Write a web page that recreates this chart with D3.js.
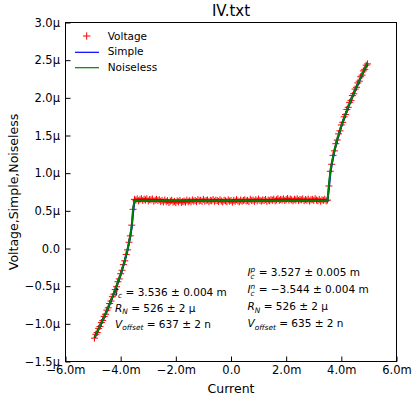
<!DOCTYPE html>
<html>
<head>
<meta charset="utf-8">
<script src="https://cdn.jsdelivr.net/npm/d3@7"></script>
<style>
  body { margin: 0; background: #fff; }
  svg { display: block; font-family: 'DejaVu Sans', sans-serif; }
</style>
</head>
<body>
<div id="iv-chart"><svg></svg></div>
<script>
// series names, in plotting order
const seriesNames = ['Voltage', 'Simple', 'Noiseless']
const seriesColors = ['#ff0000', '#0000ff', '#007f00']

// measured points: current (mA) and voltage (µV)
const currents = [
  -4.95, -4.90, -4.85, -4.80, -4.75, -4.70, -4.65, -4.60, -4.55, -4.50,
  -4.45, -4.40, -4.35, -4.30, -4.25, -4.20, -4.15, -4.10, -4.05, -4.00,
  -3.95, -3.90, -3.85, -3.80, -3.75, -3.70, -3.65, -3.60, -3.55,
  -3.50, -3.45, -3.40, -3.35, -3.30, -3.25, -3.20, -3.15, -3.10, -3.05,
  -3.00, -2.95, -2.90, -2.85, -2.80, -2.75, -2.70, -2.65, -2.60, -2.55,
  -2.50, -2.45, -2.40, -2.35, -2.30, -2.25, -2.20, -2.15, -2.10, -2.05,
  -2.00, -1.95, -1.90, -1.85, -1.80, -1.75, -1.70, -1.65, -1.60, -1.55,
  -1.50, -1.45, -1.40, -1.35, -1.30, -1.25, -1.20, -1.15, -1.10, -1.05,
  -1.00, -0.95, -0.90, -0.85, -0.80, -0.75, -0.70, -0.65, -0.60, -0.55,
  -0.50, -0.45, -0.40, -0.35, -0.30, -0.25, -0.20, -0.15, -0.10, -0.05,
  0.00, 0.05, 0.10, 0.15, 0.20, 0.25, 0.30, 0.35, 0.40, 0.45,
  0.50, 0.55, 0.60, 0.65, 0.70, 0.75, 0.80, 0.85, 0.90, 0.95,
  1.00, 1.05, 1.10, 1.15, 1.20, 1.25, 1.30, 1.35, 1.40, 1.45,
  1.50, 1.55, 1.60, 1.65, 1.70, 1.75, 1.80, 1.85, 1.90, 1.95,
  2.00, 2.05, 2.10, 2.15, 2.20, 2.25, 2.30, 2.35, 2.40, 2.45,
  2.50, 2.55, 2.60, 2.65, 2.70, 2.75, 2.80, 2.85, 2.90, 2.95,
  3.00, 3.05, 3.10, 3.15, 3.20, 3.25, 3.30, 3.35, 3.40, 3.45,
  3.50,
  3.55, 3.60, 3.65, 3.70, 3.75, 3.80, 3.85, 3.90, 3.95, 4.00,
  4.05, 4.10, 4.15, 4.20, 4.25, 4.30, 4.35, 4.40, 4.45, 4.50,
  4.55, 4.60, 4.65, 4.70, 4.75, 4.80, 4.85, 4.90, 4.95
]
const voltage = [
  -1.190, -1.138, -1.115, -1.060, -1.035, -0.982, -0.955, -0.901, -0.873, -0.818,
  -0.788, -0.730, -0.698, -0.640, -0.606, -0.545, -0.508, -0.441, -0.404, -0.335,
  -0.289, -0.214, -0.163, -0.079, -0.018, 0.083, 0.168, 0.310, 0.520,
  0.652, 0.641, 0.658, 0.633, 0.649, 0.662, 0.638, 0.655, 0.644, 0.660,
  0.631, 0.650, 0.646, 0.657, 0.628, 0.642, 0.653, 0.636, 0.648, 0.625,
  0.639, 0.618, 0.644, 0.622, 0.635, 0.611, 0.629, 0.640, 0.615, 0.626,
  0.608, 0.633, 0.619, 0.637, 0.612, 0.624, 0.630, 0.616, 0.642, 0.621,
  0.634, 0.619, 0.645, 0.628, 0.638, 0.623, 0.648, 0.631, 0.640, 0.626,
  0.652, 0.629, 0.637, 0.644, 0.622, 0.639, 0.633, 0.650, 0.627, 0.641,
  0.636, 0.624, 0.647, 0.630, 0.618, 0.641, 0.633, 0.622, 0.645, 0.629,
  0.637, 0.615, 0.640, 0.626, 0.649, 0.632, 0.620, 0.643, 0.628, 0.638,
  0.646, 0.631, 0.639, 0.624, 0.653, 0.635, 0.642, 0.627, 0.648, 0.633,
  0.656, 0.638, 0.629, 0.645, 0.637, 0.651, 0.626, 0.643, 0.634, 0.649,
  0.640, 0.655, 0.632, 0.647, 0.661, 0.638, 0.652, 0.644, 0.659, 0.636,
  0.650, 0.664, 0.641, 0.657, 0.646, 0.633, 0.654, 0.642, 0.660, 0.637,
  0.651, 0.645, 0.658, 0.634, 0.649, 0.641, 0.656, 0.630, 0.647, 0.653,
  0.638, 0.660, 0.643, 0.635, 0.652, 0.628, 0.646, 0.639, 0.655, 0.633,
  0.642,
  0.830, 1.025, 1.118, 1.236, 1.296, 1.391, 1.440, 1.522, 1.562, 1.640,
  1.675, 1.748, 1.778, 1.846, 1.874, 1.940, 1.966, 2.030, 2.054, 2.116,
  2.140, 2.198, 2.221, 2.280, 2.301, 2.358, 2.378, 2.433, 2.450
]

// fitted curves: current (mA) and voltage (µV)
const fitCurrents = [
  -4.95, -4.75, -4.50, -4.25, -4.00, -3.85, -3.75, -3.65, -3.60, -3.55, -3.50,
  3.50, 3.55, 3.60, 3.65, 3.75, 3.85, 4.00, 4.25, 4.50, 4.75, 4.95
]
const simple = [
  -1.185, -1.031, -0.827, -0.603, -0.347, -0.164, -0.020, 0.161, 0.281, 0.471, 0.637,
  0.637, 0.803, 0.993, 1.113, 1.294, 1.438, 1.621, 1.877, 2.101, 2.305, 2.459
]
const noiseless = [
  -1.183, -1.029, -0.824, -0.599, -0.341, -0.156, -0.010, 0.176, 0.302, 0.527, 0.635,
  0.635, 0.847, 1.014, 1.129, 1.305, 1.447, 1.627, 1.882, 2.105, 2.309, 2.462
]

const xTicks = [-6, -4, -2, 0, 2, 4, 6]
const xTickLabels = ['−6.0m', '−4.0m', '−2.0m', '0.0', '2.0m', '4.0m', '6.0m']
const yTicks = [3.0, 2.5, 2.0, 1.5, 1.0, 0.5, 0, -0.5, -1.0, -1.5]
const yTickLabels = ['3.0μ', '2.5μ', '2.0μ', '1.5μ', '1.0μ', '0.5μ', '0.0', '−0.5μ', '−1.0μ', '−1.5μ']

// fit results, one row per line: [text, style]
const simpleNotes = [
  [['I', 'i'], ['c', 'sub'], [' = 3.536 ± 0.004 m', 'n']],
  [['R', 'i'], ['N', 'sub'], [' = 526 ± 2 μ', 'n']],
  [['V', 'i'], ['offset', 'sub'], [' = 637 ± 2 n', 'n']]
]
const noiselessNotes = [
  [['I', 'i'], ['c', 'sub'], ['p', 'sup'], [' = 3.527 ± 0.005 m', 'n']],
  [['I', 'i'], ['c', 'sub'], ['n', 'sup'], [' = −3.544 ± 0.004 m', 'n']],
  [['R', 'i'], ['N', 'sub'], [' = 526 ± 2 μ', 'n']],
  [['V', 'i'], ['offset', 'sub'], [' = 635 ± 2 n', 'n']]
]

const margin = { top: 22.5, left: 65.5 }
const width = 331
const height = 339

const svg = d3.select('#iv-chart').select('svg')
  .attr('width', 416)
  .attr('height', 400)

const g = svg.append('g')
  .attr('transform', 'translate(' + margin.left + ',' + margin.top + ')')

const xScale = d3.scaleLinear().domain([-6, 6]).range([0, width])
const yScale = d3.scaleLinear().domain([-1.5, 3.0]).range([height, 0])

/**
 * Draws the axes with inward ticks and the preset tick labels.
 */
function drawAxes () {
  const xAxis = g.append('g')
    .attr('transform', 'translate(0,' + height + ')')
    .call(d3.axisBottom(xScale)
      .tickValues(xTicks)
      .tickFormat((d, i) => xTickLabels[i])
      .tickSizeInner(-5)
      .tickSizeOuter(0)
      .tickPadding(4))
  const yAxis = g.append('g')
    .call(d3.axisLeft(yScale)
      .tickValues(yTicks)
      .tickFormat((d, i) => yTickLabels[i])
      .tickSizeInner(-5)
      .tickSizeOuter(0)
      .tickPadding(5.5))
  for (const axis of [xAxis, yAxis]) {
    axis.select('.domain').remove()
    axis.selectAll('text')
      .attr('font-family', 'DejaVu Sans')
      .attr('font-size', 11.5)
      .attr('fill', '#000')
  }
}

/**
 * Draws the red cross markers and the two fitted lines.
 */
function drawSeries () {
  g.append('g')
    .selectAll('path')
    .data(currents)
    .join('path')
    .attr('d', (d, i) => {
      const px = xScale(d)
      const py = yScale(voltage[i])
      return 'M' + (px - 3.5) + ',' + py + 'H' + (px + 3.5) +
        'M' + px + ',' + (py - 3.5) + 'V' + (py + 3.5)
    })
    .attr('stroke', seriesColors[0])
    .attr('stroke-width', 1)

  const line = d3.line()
    .x(d => xScale(d[0]))
    .y(d => yScale(d[1]))

  ;[simple, noiseless].forEach((values, k) => {
    g.append('path')
      .datum(fitCurrents.map((c, i) => [c, values[i]]))
      .attr('d', line)
      .attr('fill', 'none')
      .attr('stroke', seriesColors[k + 1])
      .attr('stroke-width', 2)
  })
}

/**
 * Appends one line of fit text with sub and superscripts.
 */
function appendNote (x, y, parts) {
  const text = svg.append('text')
    .attr('x', x)
    .attr('y', y)
    .attr('font-size', 10.5)
    .attr('fill', '#000')
  let shift = 0
  let subWidth = 0
  parts.forEach(([str, kind]) => {
    const t = text.append('tspan').text(str)
    if (kind === 'sub') {
      t.attr('font-style', 'italic').attr('font-size', 7.4).attr('dy', 2.7 - shift)
      shift = 2.7
      subWidth = t.node().getComputedTextLength()
    } else if (kind === 'sup') {
      t.attr('font-style', 'italic').attr('font-size', 7.4)
        .attr('dy', -4.4 - shift).attr('dx', -subWidth)
      shift = -4.4
    } else {
      if (kind === 'i') t.attr('font-style', 'italic')
      t.attr('dy', -shift)
      shift = 0
    }
  })
}

drawSeries()
drawAxes()

g.append('rect')
  .attr('width', width)
  .attr('height', height)
  .attr('fill', 'none')
  .attr('stroke', '#000')
  .attr('stroke-width', 1)

simpleNotes.forEach((row, i) => appendNote(115, 295.5 + i * 16, row))
noiselessNotes.forEach((row, i) => appendNote(247.5, 276 + i * 17, row))

// legend, no frame
const legend = svg.append('g')
legend.append('path')
  .attr('d', 'M83,36H90.4M86.7,32.3V39.7')
  .attr('stroke', seriesColors[0])
  .attr('stroke-width', 1)
;[52.3, 67.7].forEach((ly, k) => {
  legend.append('line')
    .attr('x1', 75).attr('x2', 99)
    .attr('y1', ly).attr('y2', ly)
    .attr('stroke', seriesColors[k + 1])
    .attr('stroke-width', 1.2)
})
seriesNames.forEach((name, k) => {
  legend.append('text')
    .text(name)
    .attr('x', 107.7)
    .attr('y', 36 + k * 15.7)
    .attr('dy', '0.36em')
    .attr('font-size', 10.5)
})

svg.append('text')
  .text('IV.txt')
  .attr('x', margin.left + width / 2)
  .attr('y', 15.5)
  .attr('text-anchor', 'middle')
  .attr('font-size', 15)

svg.append('text')
  .text('Current')
  .attr('x', margin.left + width / 2)
  .attr('y', 393)
  .attr('text-anchor', 'middle')
  .attr('font-size', 12.5)

svg.append('text')
  .text('Voltage,Simple,Noiseless')
  .attr('transform', 'translate(17.5,' + (margin.top + height / 2) + ') rotate(-90)')
  .attr('text-anchor', 'middle')
  .attr('font-size', 12.5)
</script>
</body>
</html>
